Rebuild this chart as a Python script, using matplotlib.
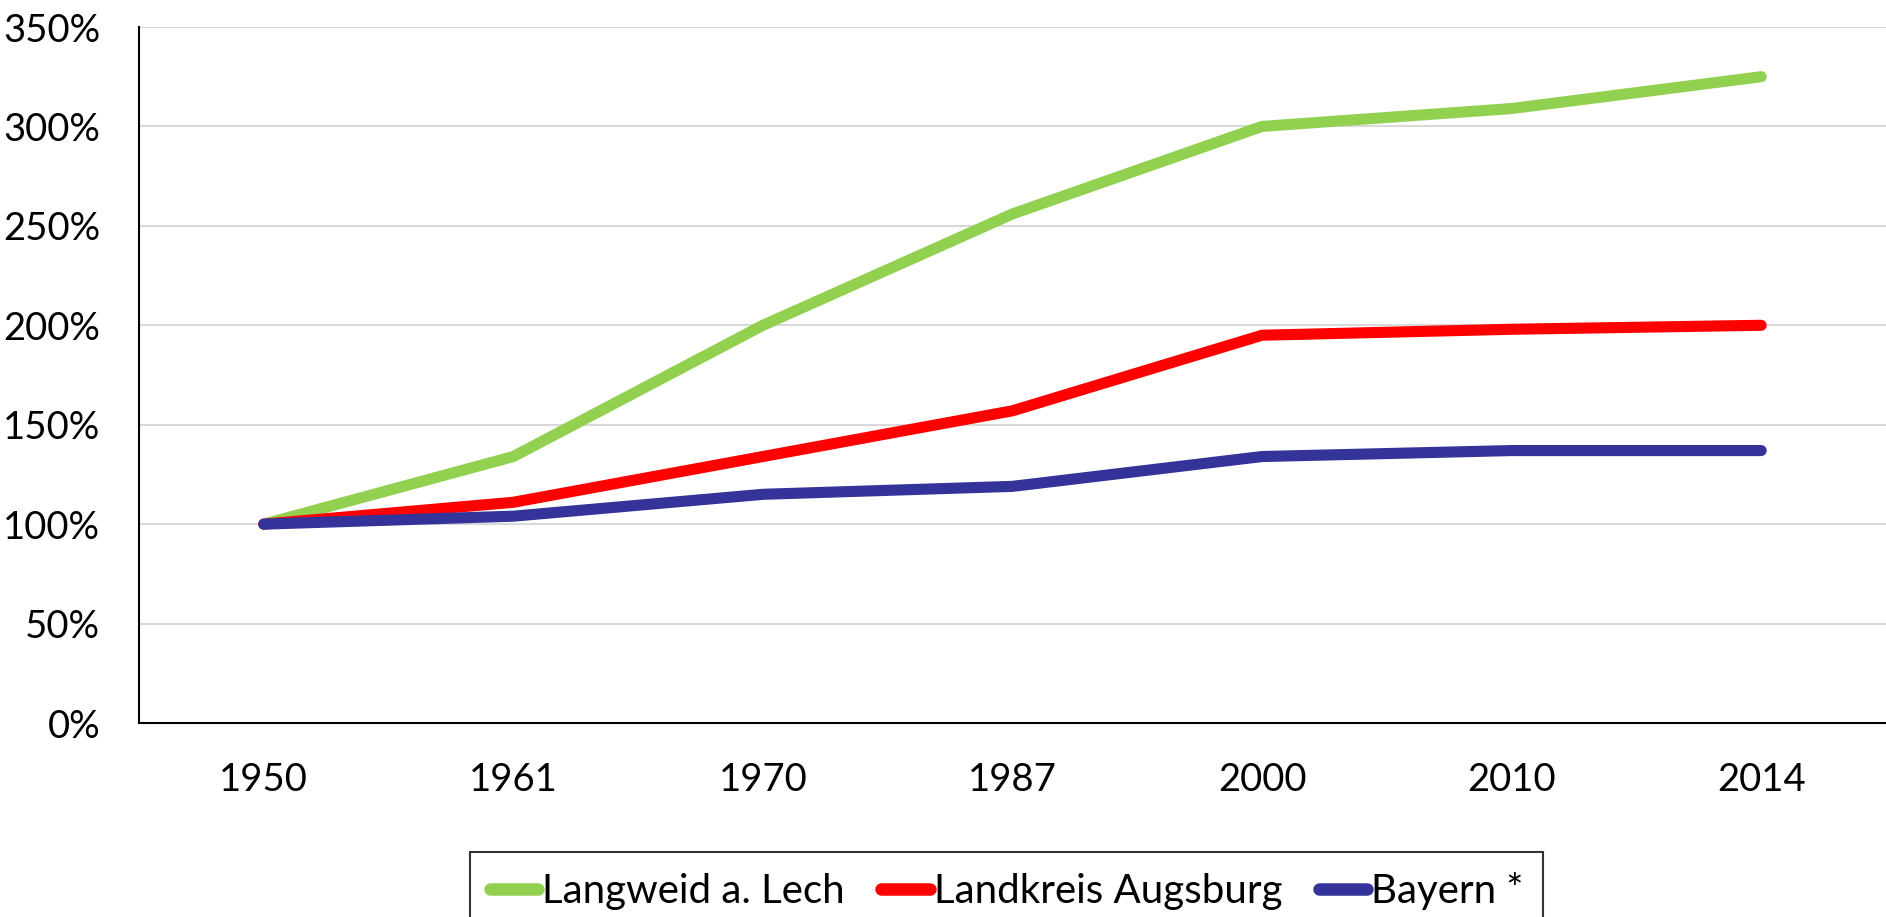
import matplotlib
matplotlib.use('Agg')
import matplotlib.pyplot as plt
from matplotlib.ticker import PercentFormatter

# Bevölkerungsentwicklung, 1950 = 100%
jahre = ['1950', '1961', '1970', '1987', '2000', '2010', '2014']
langweid = [100, 134, 200, 256, 300, 309, 325]
landkreis = [100, 111, 134, 157, 195, 198, 200]
bayern = [100, 104, 115, 119, 134, 137, 137]

namen = ['Langweid a. Lech', 'Landkreis Augsburg', 'Bayern *']
farben = ['#92D050', '#FF0000', '#333399']

plt.rcParams['font.family'] = ['Lato', 'DejaVu Sans']

fig = plt.figure(figsize=(18.86, 9.17), dpi=100)
ax = fig.add_axes([139 / 1886, 1 - 723 / 917, 1 - 139 / 1886, (723 - 27) / 917])

x = range(len(jahre))
for werte, name, farbe in zip([langweid, landkreis, bayern], namen, farben):
    ax.plot(x, werte, color=farbe, lw=8, solid_capstyle='round',
            solid_joinstyle='round', label=name, zorder=3)

ax.set_xlim(-0.5, len(jahre) - 0.5)
ax.set_ylim(0, 350)
ax.set_yticks(range(0, 351, 50))
ax.yaxis.set_major_formatter(PercentFormatter(decimals=0))
ax.set_xticks(list(x))
ax.set_xticklabels(jahre)

ax.grid(axis='y', color='#D9D9D9', lw=1.5, zorder=0)
ax.set_axisbelow(True)
for s in ['top', 'right']:
    ax.spines[s].set_visible(False)
for s in ['left', 'bottom']:
    ax.spines[s].set_linewidth(1.5)
    ax.spines[s].set_color('black')

ax.tick_params(axis='y', length=0, pad=28, labelsize=27.5)
ax.tick_params(axis='x', length=0, pad=28, labelsize=27.5)

leg = fig.legend(loc='upper left', bbox_to_anchor=(470 / 1886, 1 - 852 / 917),
                 ncol=3, fontsize=29, frameon=True, fancybox=False,
                 handlelength=1.2, handletextpad=0.1, columnspacing=0.9,
                 borderpad=0.5, borderaxespad=0)
leg.get_frame().set_edgecolor('black')
leg.get_frame().set_linewidth(1.5)
for h in leg.get_lines():
    h.set_solid_capstyle('round')
    h.set_linewidth(9)

fig.savefig('out.png', dpi=100)
